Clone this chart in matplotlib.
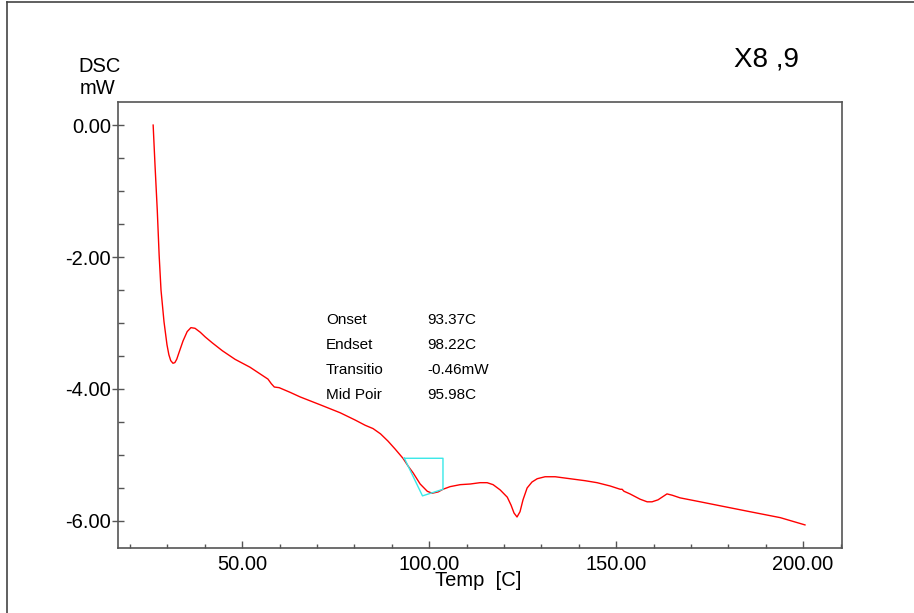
import matplotlib
matplotlib.use("Agg")
import matplotlib.pyplot as plt
from matplotlib.lines import Line2D
from matplotlib.ticker import MultipleLocator, FormatStrFormatter

plt.rcParams['font.family'] = ['Liberation Sans', 'DejaVu Sans']

# DSC curve (Temp [C], DSC [mW])
temp = [26.2, 26.7, 27.3, 27.8, 28.3, 29.1, 29.9, 30.4, 30.9, 31.5, 32.0, 32.5, 33.1,
        34.2, 35.3, 36.3, 37.4, 38.8, 40.1, 42.0, 44.7, 48.1, 52.1, 55.3, 56.9, 57.8,
        58.6, 59.9, 62.8, 65.5, 70.9, 76.2, 80.2, 82.9, 85.0, 87.0, 89.0, 90.9, 93.0,
        94.4, 95.7, 97.6, 99.5, 100.8, 102.4, 103.7, 105.6, 108.3, 111.0, 113.6, 115.5,
        117.1, 119.0, 120.9, 121.9, 122.7, 123.5, 124.3, 125.1, 126.2, 127.5, 128.9,
        131.0, 133.7, 137.7, 141.7, 144.9, 148.4, 151.1, 151.6, 152.1, 153.7, 156.4,
        158.3, 159.6, 161.2, 162.8, 163.6, 165.0, 167.1, 172.5, 177.8, 185.8, 193.9, 200.5]
dsc = [0.00, -0.61, -1.29, -1.97, -2.50, -2.98, -3.33, -3.48, -3.57, -3.61, -3.60, -3.55,
       -3.45, -3.27, -3.13, -3.07, -3.08, -3.14, -3.21, -3.30, -3.42, -3.55, -3.67, -3.79,
       -3.85, -3.92, -3.97, -3.98, -4.05, -4.12, -4.24, -4.36, -4.47, -4.55, -4.60, -4.68,
       -4.79, -4.91, -5.05, -5.17, -5.27, -5.44, -5.55, -5.58, -5.56, -5.52, -5.48, -5.45,
       -5.44, -5.42, -5.42, -5.45, -5.53, -5.64, -5.76, -5.88, -5.94, -5.86, -5.68, -5.50,
       -5.41, -5.36, -5.33, -5.33, -5.36, -5.39, -5.42, -5.47, -5.52, -5.52, -5.55, -5.59,
       -5.67, -5.71, -5.71, -5.68, -5.62, -5.59, -5.61, -5.65, -5.71, -5.77, -5.86, -5.95,
       -6.06]

# Transition analysis construction (cyan)
box_x = [93.37, 103.7, 103.7, 98.22, 93.37]
box_y = [-5.05, -5.05, -5.52, -5.62, -5.05]

result_names = ["Onset", "Endset", "Transitio", "Mid Poir"]
result_values = ["93.37C", "98.22C", "-0.46mW", "95.98C"]

W, H = 914, 613
fig = plt.figure(figsize=(W / 100, H / 100), dpi=100)
ax = fig.add_axes([118 / W, 1 - 548 / H, (842 - 118) / W, (548 - 102) / H])

ax.plot(temp, dsc, color='#ff0000', lw=1.0)
ax.plot(box_x, box_y, color='#38e8e8', lw=1.0)

ax.set_xlim(16.8, 210.4)
ax.set_ylim(-6.41, 0.35)

ax.xaxis.set_major_locator(MultipleLocator(50))
ax.xaxis.set_minor_locator(MultipleLocator(10))
ax.yaxis.set_major_locator(MultipleLocator(2))
ax.yaxis.set_minor_locator(MultipleLocator(0.5))
ax.xaxis.set_major_formatter(FormatStrFormatter('%.2f'))
ax.yaxis.set_major_formatter(FormatStrFormatter('%.2f'))

spine_col = '#555555'
for s in ax.spines.values():
    s.set_color(spine_col)
    s.set_linewidth(1.2)

ax.tick_params(axis='x', which='major', direction='in', length=5, width=1, color=spine_col,
               labelsize=14.5, pad=5)
ax.tick_params(axis='x', which='minor', direction='in', length=3, width=1, color=spine_col)
ax.tick_params(axis='y', which='major', direction='inout', length=8, width=1, color=spine_col,
               labelsize=14.5, pad=1)
ax.tick_params(axis='y', which='minor', direction='in', length=4, width=1, color=spine_col)

fig.text(478 / W, 1 - 581 / H, "Temp  [C]", ha='center', va='center', fontsize=14.5)
fig.text(100 / W, 1 - 67 / H, "DSC", ha='center', va='center', fontsize=14.5)
fig.text(98 / W, 1 - 89 / H, "mW", ha='center', va='center', fontsize=14.5)
fig.text(766 / W, 1 - 60 / H, "X8 ,9", ha='center', va='center', fontsize=20)

rows_y = [320, 345, 370, 395]
for name, val, ry in zip(result_names, result_values, rows_y):
    fig.text(326 / W, 1 - ry / H, name, ha='left', va='center', fontsize=11)
    fig.text(427 / W, 1 - ry / H, val, ha='left', va='center', fontsize=11)

# outer frame lines
fig.add_artist(Line2D([7 / W, 1.0], [1 - 2 / H, 1 - 2 / H], color='#444444', lw=1.2,
                      transform=fig.transFigure))
fig.add_artist(Line2D([7 / W, 7 / W], [0, 1 - 2 / H], color='#444444', lw=1.2,
                      transform=fig.transFigure))

fig.savefig("out.png", dpi=100)
